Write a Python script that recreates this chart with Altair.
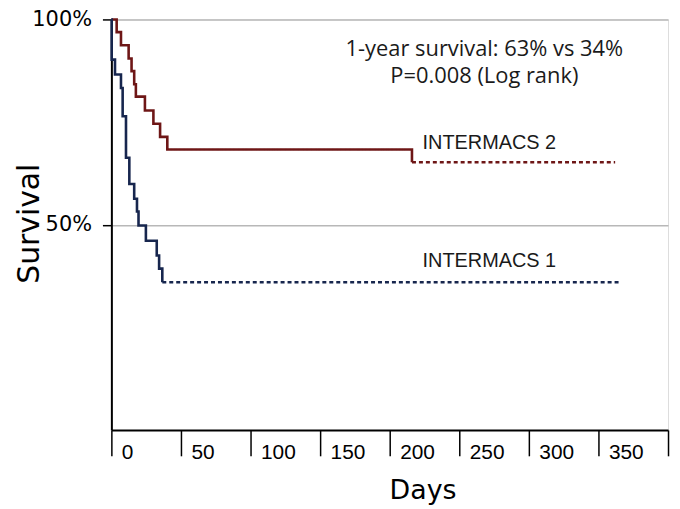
import altair as alt
import pandas as pd

# ---- data ----
red_days = [0, 3.8, 6.9, 12.4, 14.5, 16.4, 17.6, 24.1, 30.2, 35.0, 40.2, 216]
red_surv = [100, 96.9, 93.7, 90.5, 87.4, 84.2, 81.2, 77.8, 74.6, 71.4, 68.3, 65.2]
red_dash_days = [216, 362]
red_dash_surv = [65.2, 65.2]

blue_days = [0, 0.2, 2.6, 6.9, 8.1, 10.5, 12.9, 16.4, 18.4, 19.5, 24.8, 32.6, 34.3, 36.6]
blue_surv = [100, 90.2, 86.6, 83.3, 76.4, 66.3, 59.9, 56.3, 53.2, 49.8, 46.1, 42.5, 39.3, 36.0]
blue_dash_days = [36.6, 365]
blue_dash_surv = [36.0, 36.0]

x_ticks = [0, 50, 100, 150, 200, 250, 300, 350, 400]
y_ticks = [50, 100]

note_lines = ["1-year survival: 63% vs 34%", "P=0.008 (Log rank)"]
note_x = [268, 268]
note_y = [91.0, 84.6]

group_labels = ["INTERMACS 2", "INTERMACS 1"]
group_label_x = [223.6, 223.6]
group_label_y = [68.5, 39.8]

# ---- build tables ----
rows = []
for d, s in zip(red_days, red_surv):
    rows.append(dict(day=d, surv=s, group="I2", seg="I2-solid", style="solid"))
for d, s in zip(red_dash_days, red_dash_surv):
    rows.append(dict(day=d, surv=s, group="I2", seg="I2-dash", style="dashed"))
for d, s in zip(blue_days, blue_surv):
    rows.append(dict(day=d, surv=s, group="I1", seg="I1-solid", style="solid"))
for d, s in zip(blue_dash_days, blue_dash_surv):
    rows.append(dict(day=d, surv=s, group="I1", seg="I1-dash", style="dashed"))
curves = pd.DataFrame(rows)

notes = pd.DataFrame(dict(text=note_lines, x=note_x, y=note_y))
glabels = pd.DataFrame(dict(text=group_labels, x=group_label_x, y=group_label_y))

xscale = alt.Scale(domain=[0, 400], nice=False, zero=False)
yscale = alt.Scale(domain=[0, 100], nice=False)

lines = alt.Chart(curves).mark_line(interpolate="step-after", strokeWidth=2.6).encode(
    x=alt.X("day:Q", scale=xscale,
            axis=alt.Axis(values=x_ticks, title="Days", grid=False,
                          domainColor="black", domainWidth=2,
                          tickColor="black", tickWidth=1.5, tickSize=26,
                          labelAlign="left", labelBaseline="top", labelOffset=10,
                          labelPadding=-14, labelFontSize=21, labelColor="black",
                          labelFont="Liberation Sans", labelFlush=False,
                          labelOverlap=False,
                          labelExpr="datum.value < 400 ? datum.label : ''",
                          titleFont="DejaVu Sans", titleFontSize=27,
                          titleFontWeight="normal", titleColor="black",
                          titleX=313, titleY=69, titleBaseline="alphabetic")),
    y=alt.Y("surv:Q", scale=yscale,
            axis=alt.Axis(values=y_ticks, title="Survival", grid=True,
                          gridColor="#b8b8b8", gridWidth=1.5,
                          domainColor="black", domainWidth=2,
                          tickColor="black", tickWidth=1.5, tickSize=9,
                          labelPadding=11, labelFontSize=21, labelColor="black",
                          labelFont="DejaVu Sans",
                          labelExpr="datum.value + '%'",
                          titleFont="DejaVu Sans", titleFontSize=30,
                          titleFontWeight="normal", titleColor="black",
                          titleX=-73, titleY=205, titleBaseline="alphabetic",
                          titleAngle=270)),
    color=alt.Color("group:N", scale=alt.Scale(domain=["I2", "I1"],
                                               range=["#6e1616", "#17264e"]),
                    legend=None),
    strokeDash=alt.StrokeDash("style:N", scale=alt.Scale(domain=["solid", "dashed"],
                                                         range=[[1, 0], [4, 3]]),
                              legend=None),
    detail="seg:N",
)

note_text = alt.Chart(notes).mark_text(font="Open Sans", fontSize=22, color="#1a1a1a",
                                        align="center", baseline="alphabetic").encode(
    x=alt.X("x:Q", scale=xscale), y=alt.Y("y:Q", scale=yscale), text="text:N")

label_text = alt.Chart(glabels).mark_text(font="Liberation Sans", fontSize=20, color="#1a1a1a",
                                          align="left", baseline="alphabetic").encode(
    x=alt.X("x:Q", scale=xscale), y=alt.Y("y:Q", scale=yscale), text="text:N")

chart = alt.layer(lines, note_text, label_text).properties(
    width=560, height=413,
    autosize=alt.AutoSizeParams(type="none"),
    padding={"left": 104, "top": 10, "right": 4, "bottom": 75},
).configure_view(stroke=None).configure(background="white")

chart.save("out.html", embed_options={"renderer": "svg", "actions": False})
